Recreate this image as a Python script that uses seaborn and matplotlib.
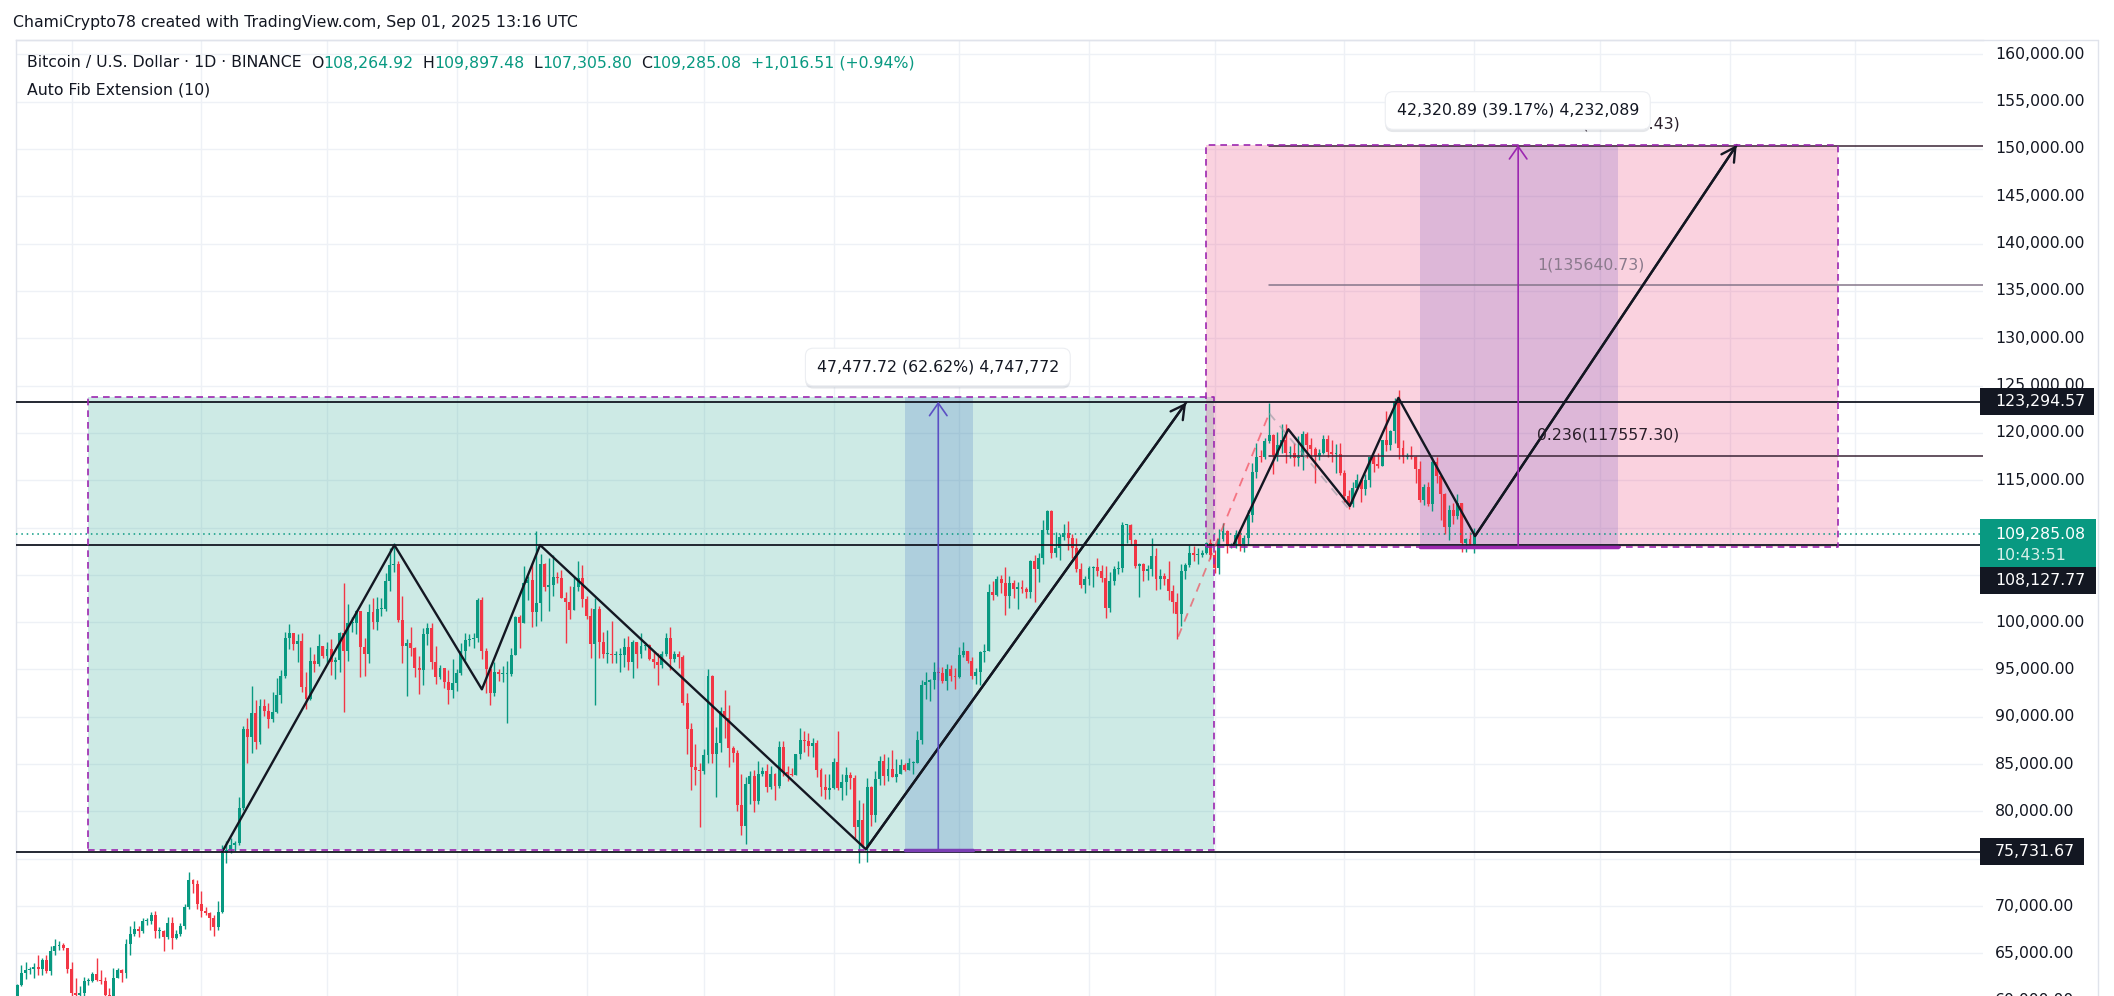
import numpy as np
import pandas as pd
import matplotlib
matplotlib.use("Agg")
import matplotlib.pyplot as plt
from matplotlib.patches import Rectangle
from matplotlib import patheffects
import seaborn as sns

# ---------------- data (BTCUSDT daily, thousands of USD: high, low, close) ----------------
first_open_k = 60.3
sep_2024 = [(61.8,59.2,61.7),(63.8,61.6,62.9),(64.1,62.3,63.2),(63.6,62.8,63.3),(64.0,62.4,63.6),(64.8,62.7,63.3),
            (64.5,62.7,64.3),(64.8,62.9,63.1),(65.8,62.7,65.2),(66.5,64.8,65.8),(66.3,65.4,65.9),(66.1,65.4,65.6),
            (65.6,62.9,63.3)]
oct_2024 = [(64.1,60.2,60.8),(62.4,59.9,60.6),(61.5,59.8,60.8),(62.5,60.5,62.1),(62.4,61.7,62.1),(63.0,62.0,62.8),
            (64.5,62.1,62.2),(63.2,61.8,62.1),(62.5,60.3,60.6),(61.3,58.9,60.3),(63.4,60.0,62.4),(63.5,62.4,63.2),
            (63.3,62.0,62.9),(66.5,62.4,66.0),(67.9,64.8,67.0),(68.4,66.8,67.6),(67.9,66.7,67.4),(68.7,67.1,68.4),
            (68.7,68.0,68.4),(69.4,68.1,69.0),(69.5,66.6,67.4),(67.8,66.6,67.4),(67.5,65.3,66.7),(68.8,66.5,68.2),
            (68.8,65.5,66.6),(67.5,66.5,67.0),(68.2,66.8,67.9),(70.2,67.6,69.9),(73.6,69.7,72.7),(72.9,71.4,72.3),
            (72.7,69.7,70.2)]
nov_2024 = [(71.6,68.8,69.5),(69.9,69.0,69.3),(69.4,67.5,68.7),(69.0,66.8,67.8),(70.5,67.5,69.4),(76.4,69.3,75.6),
            (76.9,74.5,75.9),(77.2,75.6,76.5),(76.9,75.8,76.7),(81.5,76.5,80.4),(89.0,80.2,88.7),(89.9,85.1,87.9),
            (93.3,86.2,90.4),(91.8,86.6,87.3),(91.9,87.1,91.1),(91.9,90.1,90.6),(91.5,88.8,89.8),(92.6,89.4,90.5),
            (94.1,90.4,92.3),(94.9,91.5,94.3),(99.0,94.1,98.3),(99.8,97.2,98.9),(98.9,97.1,97.7),(98.7,95.8,98.0),
            (98.9,92.6,93.1),(94.7,90.8,91.9),(97.4,91.8,95.9),(96.6,94.7,95.6),(98.7,95.4,97.5),(97.5,96.2,96.4)]
dec_2024 = [(97.9,95.7,97.2),(98.2,94.4,95.8),(96.3,94.0,96.0),(99.0,94.7,98.8),(104.1,90.5,97.0),(101.9,95.9,99.9),
            (100.5,99.0,99.9),(101.3,98.7,101.2),(101.2,94.2,97.4),(98.3,94.3,96.6),(101.9,95.7,101.1),(102.5,99.3,100.0),
            (102.7,99.2,101.4),(102.6,100.6,101.4),(105.2,101.2,104.3),(107.8,103.3,106.0),(108.4,105.3,106.1),
            (106.5,100.0,100.2),(102.8,95.7,97.5),(98.2,92.2,97.8),(99.5,96.4,97.3),(97.4,94.2,95.2),(96.4,92.4,94.9),
            (99.4,93.4,98.7),(99.9,97.6,99.4),(99.9,95.1,95.8),(97.5,93.5,94.2),(95.5,94.0,95.2),(95.2,93.0,93.7),
            (94.9,91.3,92.8),(96.1,92.0,93.6)]
jan_2025 = [(95.0,92.7,94.6),(97.8,94.4,96.9),(98.9,96.0,98.1),(98.7,97.5,98.2),(98.8,97.3,98.3),(102.5,97.9,102.3),
            (102.7,96.1,96.9),(97.3,92.5,95.0),(95.3,91.2,92.5),(95.8,92.2,94.7),(95.0,93.8,94.5),(95.4,93.7,94.5),
            (95.9,89.3,94.5),(97.3,94.3,96.5),(100.7,96.5,100.5),(100.8,97.3,99.9),(105.9,99.9,104.1),(104.9,102.3,104.4),
            (106.3,99.5,101.1),(109.6,99.6,102.0),(107.2,100.1,106.1),(106.3,103.3,103.7),(106.8,101.2,103.9),
            (107.1,102.8,104.8),(105.3,104.1,104.7),(105.5,102.5,102.6),(103.2,97.8,102.1),(103.8,100.3,101.3),
            (104.8,101.3,103.7),(106.5,103.3,104.7),(106.0,101.6,102.4)]
feb_2025 = [(102.8,100.3,100.6),(101.5,96.2,97.7),(102.5,91.2,101.4),(101.7,96.2,97.9),(99.0,96.2,96.6),(99.2,95.7,96.6),
            (100.1,95.7,96.5),(96.9,95.7,96.5),(97.3,94.7,96.5),(98.3,95.3,97.4),(98.5,94.9,95.8),(98.1,94.1,97.9),
            (97.9,95.2,96.6),(98.8,96.2,97.5),(97.9,97.1,97.6),(97.7,96.0,96.1),(97.0,95.2,95.8),(96.7,93.4,95.5),
            (97.0,95.2,96.6),(98.8,96.4,98.3),(99.5,94.9,96.1),(96.9,95.8,96.6),(96.9,95.2,96.3),(96.5,91.2,91.5),
            (92.5,86.1,88.7),(89.3,82.3,84.7),(87.1,82.8,84.4),(85.1,78.3,84.3)]
mar_2025 = [(86.6,83.9,86.0),(95.0,85.1,94.3),(94.4,85.1,86.1),(88.9,81.5,87.2),(91.0,86.3,90.6),(92.8,87.8,89.9),
            (91.2,84.7,86.7),(86.9,85.2,86.2),(86.5,80.0,80.7),(84.0,77.5,78.5),(83.6,76.6,82.9),(84.3,80.8,83.7),
            (84.4,79.9,81.1),(85.3,80.8,84.0),(84.7,83.7,84.3),(85.0,82.0,82.6),(84.8,82.4,84.0),(84.1,81.2,82.7),
            (87.4,82.5,86.8),(87.4,83.7,84.2),(84.8,83.2,84.0),(84.6,83.7,83.8),(86.1,83.8,86.1),(88.8,85.5,87.5),
            (88.5,86.3,87.4),(88.3,85.9,86.9),(87.8,85.8,87.2),(87.5,83.6,84.4),(84.6,81.6,82.6),(83.9,81.3,82.3),
            (83.9,81.3,82.5)]
apr_2025 = [(85.6,82.4,85.2),(88.5,82.3,82.5),(83.9,81.2,83.1),(84.7,81.7,83.8),(84.2,82.4,83.5),(83.8,77.2,78.4),
            (81.2,74.5,79.1),(80.9,76.2,76.3),(83.5,74.6,82.6),(82.7,78.5,79.6),(84.3,78.9,83.4),(85.9,82.8,85.3),
            (86.1,82.8,83.7),(85.8,83.2,84.5),(86.5,83.6,83.6),(85.5,83.1,84.0),(85.5,83.9,84.9),(85.1,84.3,84.4),
            (85.6,84.4,85.1),(85.3,83.9,85.1),(88.5,85.1,87.5),(93.9,87.1,93.4),(94.7,91.9,93.7),(94.0,91.7,93.9),
            (95.8,92.9,94.7),(95.3,93.9,94.6),(95.3,93.6,93.8),(95.6,92.8,95.0),(95.5,93.8,94.3),(95.2,92.9,94.2)]
may_2025 = [(97.4,94.1,96.5),(97.9,96.3,96.9),(96.9,95.7,95.9),(96.3,94.0,94.3),(95.2,93.5,94.7),(96.9,93.4,96.8),
            (97.7,95.8,97.0),(104.0,96.9,103.2),(104.3,102.3,102.9),(104.9,102.8,104.6),(105.0,103.1,104.1),
            (105.8,100.8,102.8),(104.9,101.5,104.1),(104.4,102.6,103.5),(104.2,101.4,103.7),(104.5,103.1,103.5),
            (103.7,102.6,103.2),(106.6,102.6,106.5),(107.1,102.1,105.6),(107.3,104.2,106.8),(110.8,106.1,109.7),
            (111.9,109.3,111.7),(111.8,106.8,107.3),(109.5,106.9,107.8),(109.3,106.6,109.0),(110.4,108.7,109.4),
            (110.7,107.6,108.9),(109.3,106.8,107.8),(108.9,105.3,105.6),(106.3,103.6,103.9),(104.9,103.1,104.6)]
jun_2025 = [(105.9,103.9,105.7),(105.9,103.7,105.8),(106.8,104.9,105.4),(106.0,104.2,104.7),(105.9,100.4,101.5),
            (105.3,101.1,104.3),(105.9,103.9,105.6),(106.5,105.1,105.7),(110.6,105.3,110.3),(110.4,108.4,110.3),
            (110.4,108.1,108.7),(108.8,105.7,105.9),(106.2,102.7,106.1),(106.2,104.3,105.4),(106.0,104.5,105.6),
            (108.9,104.9,107.0),(107.8,103.4,104.6),(105.6,103.5,104.9),(105.2,103.9,104.6),(106.5,102.3,103.3),
            (103.9,101.0,102.1),(103.1,98.2,100.9),(106.1,99.6,105.4),(106.3,104.6,106.0),(108.1,105.8,107.3),
            (108.0,106.5,107.1),(107.8,106.1,107.1),(107.6,106.9,107.3),(108.5,107.2,108.4),(108.8,106.7,107.1)]
jul_2025 = [(107.6,105.2,105.7),(109.8,105.1,108.8),(110.5,108.6,109.6),(109.7,107.3,108.0),(108.4,107.8,108.2),
            (109.7,107.8,109.2),(109.7,107.5,108.3),(109.2,107.4,108.9),(111.9,108.3,111.3),(116.8,110.6,115.9),
            (118.9,115.2,117.5),(118.2,116.9,117.4),(119.5,117.2,119.1),(123.2,118.9,119.8),(119.9,115.7,117.7),
            (120.1,117.0,118.7),(120.9,117.9,119.3),(120.9,116.8,117.9),(118.6,117.3,117.9),(118.9,116.5,117.3),
            (119.7,116.5,117.4),(120.2,116.1,119.9),(120.1,117.3,118.7),(119.5,117.4,118.3),(118.5,114.7,117.6),
            (118.3,117.1,117.9),(119.8,117.8,119.4),(119.8,117.4,118.0),(119.3,116.9,117.8),(118.8,115.8,117.8),
            (118.9,115.5,115.8)]
aug_2025 = [(116.1,112.7,113.3),(114.0,112.0,112.5),(114.8,112.2,114.2),(115.7,114.1,115.0),(115.1,112.7,114.1),
            (115.7,113.4,115.0),(117.6,114.3,117.5),(117.7,115.9,116.7),(117.9,116.3,116.5),(119.3,116.5,119.3),
            (122.3,118.1,118.7),(120.3,118.2,120.2),(123.7,118.9,123.3),(124.5,117.2,118.4),(119.3,116.8,117.4),
            (117.9,117.2,117.5),(118.6,117.2,117.4),(117.6,114.7,116.2),(117.0,112.7,112.9),(114.6,112.4,114.3),
            (114.8,112.3,112.5),(117.4,111.7,116.9),(117.4,114.7,115.4),(115.6,110.8,113.5),(113.6,109.3,110.1),
            (112.4,108.7,111.8),(112.6,110.4,111.2),(113.5,110.9,112.6),(112.6,107.4,108.4),(108.9,107.4,108.8),
            (109.5,108.1,108.3)]
sep_2025 = [(109.897, 107.306, 109.285)]

start_date = "2024-09-18"

# key price levels
level_top = 123294.57
level_mid = 108127.77
level_low = 75731.67
last_price = 109285.08
price_ticks = list(range(60000, 160001, 5000))

# drawings: (bar index, price)
zz1_idx = [49, 90.1, 111, 124.9, 202.7, 279.2]
zz1_price = [75731.67, 108150, 92900, 108150, 76000, 123200]
zz2_idx = [290.5, 303.6, 318.3, 329.9, 348.2, 410.7]
zz2_price = [108150, 120380, 112270, 123700, 109100, 150420]
autofib_idx = [277.3, 299.05, 318]
autofib_price = [98460, 122068, 111971]
fib_names = ["1.618", "1", "0.236"]
fib_levels = [150268.43, 135640.73, 117557.30]

green_box_idx = [17.0, 285.9]
green_box_price = [75941, 123760]
blue_band_idx = [212.05, 228.2]
blue_arrow_idx = 220.0
pink_box_idx = [283.96, 434.96]
pink_box_price = [107972, 150421]
mauve_band_idx = [335.05, 382.3]
mauve_arrow_idx = 358.5

measure1_text = "47,477.72 (62.62%) 4,747,772"
measure2_text = "42,320.89 (39.17%) 4,232,089"

header_text = "ChamiCrypto78 created with TradingView.com, Sep 01, 2025 13:16 UTC"
legend_parts = [("Bitcoin / U.S. Dollar · 1D · BINANCE", "d", 9), ("O", "d", 0), ("108,264.92", "g", 9),
                ("H", "d", 0), ("109,897.48", "g", 9), ("L", "d", 0), ("107,305.80", "g", 9),
                ("C", "d", 0), ("109,285.08", "g", 9), ("+1,016.51 (+0.94%)", "g", 0)]
indicator_text = "Auto Fib Extension (10)"

# ---------------- build OHLC ----------------
months = [sep_2024, oct_2024, nov_2024, dec_2024, jan_2025, feb_2025, mar_2025, apr_2025,
          may_2025, jun_2025, jul_2025, aug_2025, sep_2025]
rows = [r for m in months for r in m]
hi = np.array([r[0] for r in rows]) * 1000
lo = np.array([r[1] for r in rows]) * 1000
cl = np.array([r[2] for r in rows]) * 1000
op = np.concatenate([[first_open_k * 1000], cl[:-1]])
hi = np.maximum(hi, np.maximum(op, cl))
lo = np.minimum(lo, np.minimum(op, cl))
n = len(cl)
idx = np.arange(n)
dates = pd.date_range(start_date, periods=n, freq="D")
df = pd.DataFrame({"date": dates, "i": idx, "open": op, "high": hi, "low": lo, "close": cl})
df["up"] = df["close"] >= df["open"]

t0 = pd.Timestamp(start_date)
month_starts = pd.date_range("2024-10-01", "2025-12-01", freq="MS")
month_idx = [(d - t0).days for d in month_starts]

# ---------------- style ----------------
sns.set_theme(style="white")
plt.rcParams["font.family"] = ["DejaVu Sans"]
DARK = "#131722"
GREEN = "#089981"
RED = "#f23645"
PURPLE = "#9c27b0"
GRID = "#eef1f6"
FS = 11.3

W, H, DPI = 2114, 996, 100
fig = plt.figure(figsize=(W / DPI, H / DPI), dpi=DPI)
fig.patch.set_facecolor("white")
ax = fig.add_axes([16 / W, -14 / H, 1967 / W, 970 / H])
ax.set_facecolor("white")
XL = (-0.27, 469.52)
YL = (59012.7, 161517)
ax.set_xlim(*XL)
ax.set_ylim(*YL)
ax.set_xticks([]); ax.set_yticks([])
for s in ["right", "bottom"]:
    ax.spines[s].set_visible(False)
for s in ["left", "top"]:
    ax.spines[s].set_color("#e0e3eb"); ax.spines[s].set_linewidth(1)

# grid
for p in price_ticks:
    ax.axhline(p, color=GRID, lw=1, zorder=0)
for m in month_idx:
    ax.axvline(m, color=GRID, lw=1, zorder=0)

# rectangles
ax.add_patch(Rectangle((green_box_idx[0], green_box_price[0]), green_box_idx[1] - green_box_idx[0],
                       green_box_price[1] - green_box_price[0], facecolor=GREEN, alpha=0.2, lw=0, zorder=1))
ax.add_patch(Rectangle((pink_box_idx[0], pink_box_price[0]), pink_box_idx[1] - pink_box_idx[0],
                       pink_box_price[1] - pink_box_price[0], facecolor="#e91e63", alpha=0.2, lw=0, zorder=1.1))
ax.add_patch(Rectangle((blue_band_idx[0], green_box_price[0]), blue_band_idx[1] - blue_band_idx[0],
                       green_box_price[1] - green_box_price[0], facecolor="#3464bd", alpha=0.2, lw=0, zorder=1.2))
ax.add_patch(Rectangle((mauve_band_idx[0], pink_box_price[0]), mauve_band_idx[1] - mauve_band_idx[0],
                       pink_box_price[1] - pink_box_price[0], facecolor="#6a4fbd", alpha=0.2, lw=0, zorder=1.2))
for bx, by in [(green_box_idx, green_box_price), (pink_box_idx, pink_box_price)]:
    ax.plot([bx[0], bx[1], bx[1], bx[0], bx[0]], [by[0], by[0], by[1], by[1], by[0]],
            color=PURPLE, lw=1.2, ls=(0, (4, 3)), zorder=6)
ax.plot(blue_band_idx, [green_box_price[0]] * 2, color="#7b3fb5", lw=2.5, zorder=6)
ax.plot(mauve_band_idx, [pink_box_price[0]] * 2, color=PURPLE, lw=2.5, zorder=6)

# horizontal levels
for lv in [level_top, level_mid, level_low]:
    ax.axhline(lv, color=DARK, lw=1.3, zorder=4)
ax.axhline(last_price, color=GREEN, lw=1.1, ls=(0, (1, 2.5)), zorder=4)
fib_colors = ["#3a2436", "#85768a", "#3a2436"]
for lv, c in zip(fib_levels, fib_colors):
    ax.plot([autofib_idx[1], XL[1]], [lv, lv], color=c, lw=1.1, zorder=4)

# candles
colors = np.where(df["up"], GREEN, RED)
ax.vlines(df["i"], df["low"], df["high"], colors=colors, lw=1, zorder=3)
body_lo = np.minimum(df["open"], df["close"])
body_h = np.maximum(np.abs(df["close"] - df["open"]), 110)
ax.bar(df["i"], body_h, bottom=body_lo, width=0.7, color=colors, lw=0, zorder=3.1)

# auto fib pattern
ax.plot(autofib_idx[:2], autofib_price[:2], color=RED, alpha=0.6, lw=1.3, ls=(0, (5, 4)), zorder=4.5)
ax.plot(autofib_idx[1:], autofib_price[1:], color="#9598a1", alpha=0.6, lw=1.3, ls=(0, (5, 4)), zorder=4.5)

# zigzags (seaborn lines)
zz = pd.DataFrame({"x": zz1_idx + zz2_idx, "y": zz1_price + zz2_price,
                   "g": ["a"] * len(zz1_idx) + ["b"] * len(zz2_idx)})
for g, sub in zz.groupby("g"):
    sns.lineplot(data=sub, x="x", y="y", sort=False, estimator=None, color=DARK, lw=1.7, ax=ax, zorder=5)
    ax.annotate("", xy=(sub["x"].iloc[-1], sub["y"].iloc[-1]), xytext=(sub["x"].iloc[-2], sub["y"].iloc[-2]),
                arrowprops=dict(arrowstyle="->,head_length=0.55,head_width=0.3", color=DARK, lw=1.7,
                                shrinkA=0, shrinkB=0, mutation_scale=18), zorder=5)
ax.set_xlabel(""); ax.set_ylabel("")
ax.set_xlim(*XL)
ax.set_ylim(*YL)

# measure arrows
ax.annotate("", xy=(blue_arrow_idx, level_top), xytext=(blue_arrow_idx, green_box_price[0]),
            arrowprops=dict(arrowstyle="->,head_length=0.5,head_width=0.35", color="#5b4fc4", lw=1.2,
                            shrinkA=0, shrinkB=0, mutation_scale=18), zorder=5)
ax.annotate("", xy=(mauve_arrow_idx, pink_box_price[1]), xytext=(mauve_arrow_idx, level_mid),
            arrowprops=dict(arrowstyle="->,head_length=0.5,head_width=0.35", color=PURPLE, lw=1.2,
                            shrinkA=0, shrinkB=0, mutation_scale=18), zorder=5)

px_per_price = 970 / (YL[1] - YL[0])

# fib labels
fib_label_y_px = [22, 20, 21]
fib_label_colors = ["#2a1f2a", "#8a7a8c", "#2a1f2a"]
for nm, lv, dy, c in zip(fib_names, fib_levels, fib_label_y_px, fib_label_colors):
    ax.text(363.0, lv + dy / px_per_price, f"{nm}({lv:.2f})", ha="left", va="center", fontsize=FS,
            color=c, zorder=7)

# measurement labels
for txt, xi, yp in [(measure1_text, 219.9, 126961), (measure2_text, 358.4, 154067)]:
    t = ax.text(xi, yp, txt, ha="center", va="center", fontsize=FS, color=DARK, zorder=9,
                bbox=dict(boxstyle="round,pad=0.72,rounding_size=0.5", fc="white", ec="#eceef2", lw=0.8))
    t.get_bbox_patch().set_path_effects([patheffects.withSimplePatchShadow(offset=(0, -2), shadow_rgbFace="#9aa0ad", alpha=0.25)])

# right price axis
ty = ax.get_yaxis_transform()
lab_x = (1995 - 16) / 1967
for p in price_ticks:
    ax.text(lab_x, p, f"{p:,.2f}", transform=ty, ha="left", va="center", fontsize=FS, color=DARK,
            clip_on=False, zorder=10)

def tag(center, h_px, x1_px, color, zorder=11):
    h = h_px / px_per_price
    x0 = (1980 - 16) / 1967
    x1 = (x1_px - 16) / 1967
    ax.add_patch(Rectangle((x0, center - h / 2), x1 - x0, h, transform=ty, facecolor=color, lw=0,
                           clip_on=False, zorder=zorder))

tag(level_top, 27, 2094, DARK)
ax.text(lab_x, level_top, f"{level_top:,.2f}", transform=ty, ha="left", va="center", fontsize=FS,
        color="white", clip_on=False, zorder=12)
tag(level_low, 27, 2084, DARK)
ax.text(lab_x, level_low, f"{level_low:,.2f}", transform=ty, ha="left", va="center", fontsize=FS,
        color="white", clip_on=False, zorder=12)
green_top, green_bot = 110899, 105826
tag((green_top + green_bot) / 2, (green_top - green_bot) * px_per_price, 2096, GREEN)
ax.text(lab_x, last_price, f"{last_price:,.2f}", transform=ty, ha="left", va="center", fontsize=FS,
        color="white", clip_on=False, zorder=12)
ax.text(lab_x, 107000, "10:43:51", transform=ty, ha="left", va="center", fontsize=FS,
        color="#d8f0ea", clip_on=False, zorder=12)
mid_center = 104400
tag(mid_center, 27, 2096, DARK)
ax.text(lab_x, mid_center, f"{level_mid:,.2f}", transform=ty, ha="left", va="center", fontsize=FS,
        color="white", clip_on=False, zorder=12)

# frame lines
fig.add_artist(plt.Line2D([16 / W, 2098 / W], [1 - 40 / H] * 2, color="#e0e3eb", lw=1))
fig.add_artist(plt.Line2D([2098 / W] * 2, [0, 1 - 40 / H], color="#e0e3eb", lw=1))

# header & legend
fig.text(13 / W, 1 - 23 / H, header_text, fontsize=FS, color=DARK, ha="left", va="center")
fig.canvas.draw()
rend = fig.canvas.get_renderer()
xpos = 27
for s, c, gap in legend_parts:
    t = fig.text(xpos / W, 1 - 63 / H, s, fontsize=FS, color=DARK if c == "d" else GREEN, ha="left", va="center")
    bb = t.get_window_extent(rend)
    xpos = bb.x1 + gap
fig.text(27 / W, 1 - 90 / H, indicator_text, fontsize=FS, color=DARK, ha="left", va="center")

fig.savefig("out.png", dpi=DPI, facecolor="white")
